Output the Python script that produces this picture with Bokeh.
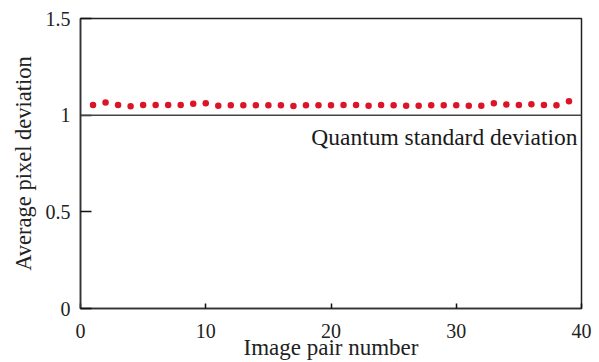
from bokeh.plotting import figure
from bokeh.models import Range1d, Span, Label, FixedTicker
from bokeh.embed import file_html
from bokeh.resources import INLINE

pair_number = list(range(1, 40))
avg_deviation = [1.053, 1.065, 1.053, 1.046, 1.053, 1.053, 1.053, 1.053, 1.059, 1.062,
                 1.049, 1.051, 1.051, 1.051, 1.051, 1.051, 1.048, 1.051, 1.051, 1.051,
                 1.053, 1.053, 1.049, 1.053, 1.051, 1.049, 1.049, 1.051, 1.051, 1.051,
                 1.049, 1.049, 1.062, 1.055, 1.053, 1.057, 1.053, 1.051, 1.072]
quantum_level = 1.0
x_ticks = [0, 10, 20, 30, 40]
y_ticks = [0, 0.5, 1, 1.5]
y_labels = {0: "0", 0.5: "0.5", 1: "1", 1.5: "1.5"}

FONT = "Liberation Serif"

p = figure(width=599, height=362, output_backend="svg", toolbar_location=None,
           x_range=Range1d(0, 40), y_range=Range1d(0, 1.5),
           min_border_left=80, min_border_right=18, min_border_top=18, min_border_bottom=51)
p.outline_line_color = "#222222"
p.outline_line_width = 1.5
p.grid.visible = False
p.background_fill_color = "white"

p.scatter(pair_number, avg_deviation, size=6.5, color="#dc1428", line_color=None)

p.add_layout(Span(location=quantum_level, dimension="width", line_color="#444444", line_width=1.5))
p.add_layout(Label(x=40, y=0.886, x_offset=-4, text="Quantum standard deviation",
                   text_align="right", text_baseline="alphabetic",
                   text_font=FONT, text_font_size="23.5px", text_color="#1a1a1a"))

for ax in (p.xaxis[0], p.yaxis[0]):
    ax.axis_line_color = "#333333"
    ax.axis_line_width = 1.5
    ax.major_tick_line_color = "#111111"
    ax.major_tick_line_width = 1.5
    ax.minor_tick_line_color = None
    ax.major_tick_out = 0
    ax.major_label_text_font = FONT
    ax.major_label_text_font_size = "20px"
    ax.major_label_text_color = "#222222"
    ax.axis_label_text_font = FONT
    ax.axis_label_text_font_style = "normal"
    ax.axis_label_text_color = "#222222"

p.xaxis.axis_label_text_font_size = "23px"
p.yaxis.axis_label_text_font_size = "22.5px"
p.xaxis.ticker = FixedTicker(ticks=x_ticks)
p.yaxis.ticker = FixedTicker(ticks=y_ticks)
p.yaxis.major_label_overrides = y_labels
p.xaxis.major_tick_in = 5
p.yaxis.major_tick_in = 11
p.xaxis.major_label_standoff = 15
p.yaxis.major_label_standoff = 10
p.xaxis.axis_label = "Image pair number"
p.yaxis.axis_label = "Average pixel deviation"
p.xaxis.axis_label_standoff = -6
p.yaxis.axis_label_standoff = 7

open("out.html", "w").write(file_html(p, INLINE))
